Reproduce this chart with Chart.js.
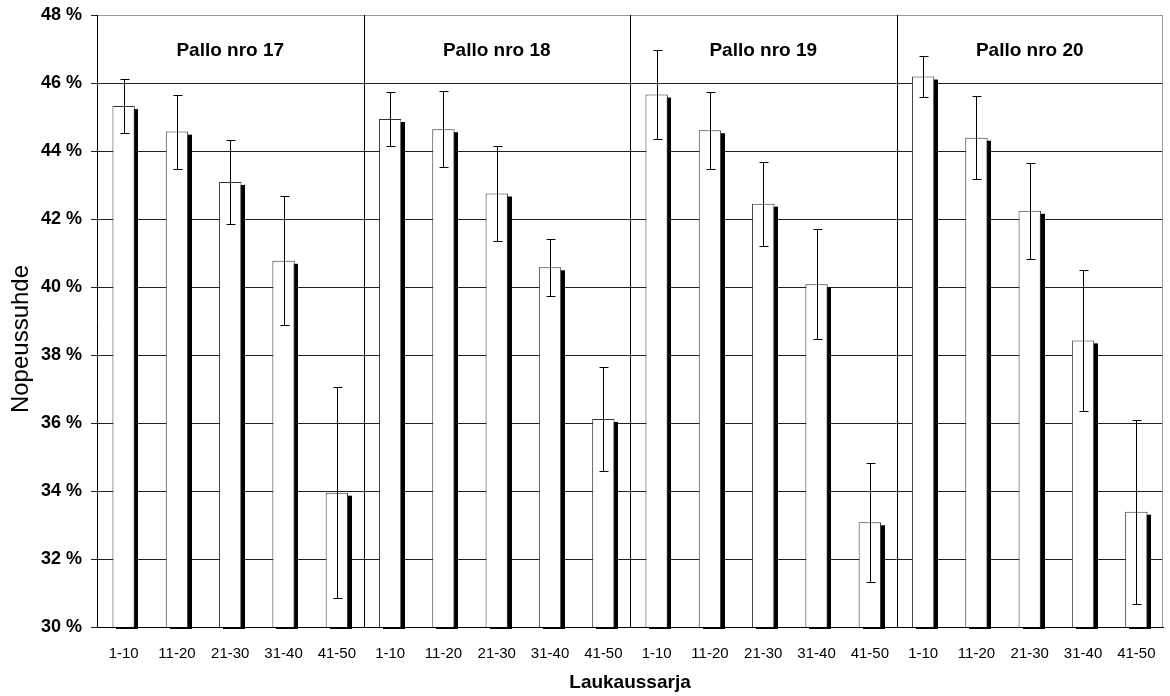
<!DOCTYPE html>
<html>
<head>
<meta charset="utf-8">
<script src="https://cdn.jsdelivr.net/npm/chart.js@4"></script>
<style>
  html, body { margin: 0; padding: 0; background: #fff; }
  #wrap { width: 1170px; height: 696px; }
</style>
</head>
<body>
<div id="wrap"><canvas id="chart" width="1170" height="696"></canvas></div>
<script>
// === data ===
const groups = ['Pallo nro 17', 'Pallo nro 18', 'Pallo nro 19', 'Pallo nro 20'];
const series = ['1-10', '11-20', '21-30', '31-40', '41-50'];

const pallo17 = [45.32, 44.57, 43.09, 40.77, 33.95];
const pallo18 = [44.94, 44.64, 42.75, 40.58, 36.12];
const pallo19 = [45.66, 44.61, 42.45, 40.08, 33.08];
const pallo20 = [46.19, 44.39, 42.24, 38.43, 33.39];

const err17 = [0.80, 1.09, 1.23, 1.90, 3.10];
const err18 = [0.79, 1.12, 1.40, 0.83, 1.52];
const err19 = [1.32, 1.14, 1.24, 1.62, 1.75];
const err20 = [0.61, 1.22, 1.41, 2.07, 2.71];

const yMin = 30, yMax = 48, yStep = 2;
const yTitle = 'Nopeussuhde';
const xTitle = 'Laukaussarja';

const labels = groups.flatMap(() => series);
const means = [].concat(pallo17, pallo18, pallo19, pallo20);
const errs = [].concat(err17, err18, err19, err20);

const FONT = "Arial, 'Liberation Sans', sans-serif";

// black drop shadow behind each bar (bars start at 0, so clamp to the axis)
const shadowPlugin = {
  id: 'shadow',
  beforeDatasetsDraw(chart) {
    const ctx = chart.ctx;
    const bottom = chart.chartArea.bottom;
    const meta = chart.getDatasetMeta(0);
    ctx.save();
    ctx.fillStyle = '#000';
    meta.data.forEach(bar => {
      const p = bar.getProps(['x', 'y', 'base', 'width'], true);
      const base = Math.min(p.base, bottom);
      const l = Math.round(p.x - p.width / 2) + 4;
      ctx.fillRect(l, p.y + 3, Math.round(p.width), base - p.y - 1);
    });
    ctx.restore();
  }
};

// error bars, group separators, group titles, y title
const extrasPlugin = {
  id: 'extras',
  beforeDatasetsDraw(chart) {
    const { ctx, chartArea: a, scales: { x } } = chart;
    ctx.save();
    ctx.lineWidth = 1;
    ctx.strokeStyle = '#000';
    for (let g = 1; g < groups.length; g++) {
      const i = g * series.length;
      const px = Math.round((x.getPixelForValue(i - 1) + x.getPixelForValue(i)) / 2) + 0.5;
      ctx.beginPath();
      ctx.moveTo(px, a.top);
      ctx.lineTo(px, a.bottom);
      ctx.stroke();
    }
    ctx.strokeStyle = '#999';
    ctx.beginPath();
    ctx.moveTo(Math.round(a.right) - 0.5, a.top);
    ctx.lineTo(Math.round(a.right) - 0.5, a.bottom);
    ctx.stroke();
    ctx.restore();
  },
  afterDatasetsDraw(chart) {
    const { ctx, chartArea: a, scales: { x, y } } = chart;
    const meta = chart.getDatasetMeta(0);
    ctx.save();
    ctx.strokeStyle = '#000';
    ctx.lineWidth = 1;
    meta.data.forEach((bar, i) => {
      const cx = Math.round(bar.x) + 0.5;
      const hi = Math.round(y.getPixelForValue(means[i] + errs[i])) + 0.5;
      const lo = Math.round(y.getPixelForValue(means[i] - errs[i])) + 0.5;
      ctx.beginPath();
      ctx.moveTo(cx, hi); ctx.lineTo(cx, lo);
      ctx.moveTo(cx - 4, hi); ctx.lineTo(cx + 5, hi);
      ctx.moveTo(cx - 4, lo); ctx.lineTo(cx + 5, lo);
      ctx.stroke();
    });

    ctx.fillStyle = '#000';
    ctx.textAlign = 'center';
    ctx.textBaseline = 'middle';
    ctx.font = 'bold 19px ' + FONT;
    groups.forEach((name, g) => {
      const first = x.getPixelForValue(g * series.length);
      const last = x.getPixelForValue(g * series.length + series.length - 1);
      ctx.fillText(name, (first + last) / 2, a.top + 36);
    });

    ctx.font = '24px ' + FONT;
    ctx.translate(21, (a.top + a.bottom) / 2 + 18);
    ctx.rotate(-Math.PI / 2);
    ctx.fillText(yTitle, 0, 0);
    ctx.restore();
  }
};

new Chart(document.getElementById('chart'), {
  type: 'bar',
  data: {
    labels,
    datasets: [{
      data: means,
      backgroundColor: '#fff',
      borderColor: '#333',
      borderWidth: 1,
      barPercentage: 0.42,
      categoryPercentage: 1
    }]
  },
  options: {
    responsive: false,
    animation: false,
    devicePixelRatio: 1,
    layout: { padding: { left: 0, right: 7, top: 15, bottom: 0 } },
    plugins: { legend: { display: false }, tooltip: { enabled: false } },
    scales: {
      x: {
        offset: true,
        grid: { display: false, drawTicks: false },
        border: { display: true, color: '#000', width: 1 },
        ticks: { color: '#000', font: { family: FONT, size: 15 }, padding: 18, maxRotation: 0, autoSkip: false },
        title: { display: true, text: xTitle, color: '#000', font: { family: FONT, size: 19, weight: 'bold' }, padding: { top: 0, bottom: 2 } },
        afterFit: (s) => { s.height = 69; s.paddingLeft = 0; s.paddingRight = 0; }
      },
      y: {
        min: yMin,
        max: yMax,
        ticks: {
          stepSize: yStep,
          color: '#000',
          padding: 9,
          font: { family: FONT, size: 18, weight: 'bold' },
          callback: (v) => v + ' %'
        },
        grid: {
          color: (c) => c.tick && c.tick.value === yMax ? '#999' : '#222',
          tickColor: '#222',
          tickLength: 6,
          lineWidth: 1
        },
        border: { display: true, color: '#000', width: 1 },
        afterFit: (s) => { s.width = 97; s.paddingTop = 0; s.paddingBottom = 0; }
      }
    }
  },
  plugins: [shadowPlugin, extrasPlugin]
});
</script>
</body>
</html>
